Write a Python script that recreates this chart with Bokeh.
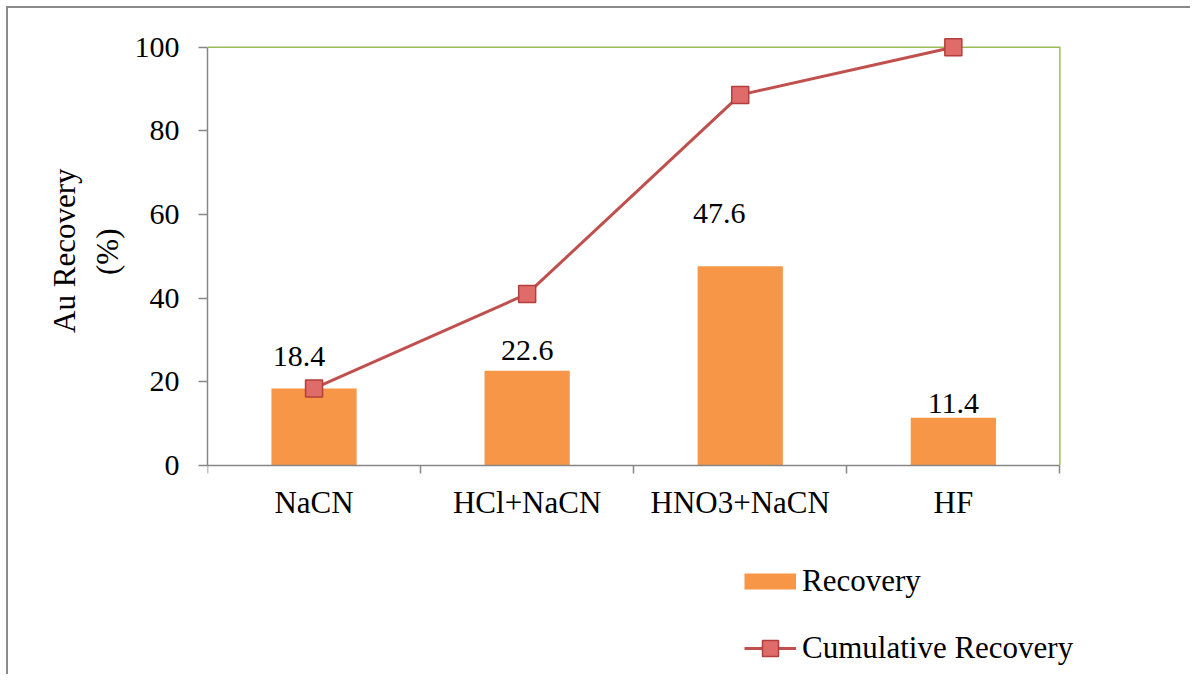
from bokeh.plotting import figure
from bokeh.models import Range1d, FixedTicker, Legend, LegendItem, ColumnDataSource, Title
from bokeh.embed import file_html
from bokeh.resources import INLINE

categories = ["NaCN", "HCl+NaCN", "HNO3+NaCN", "HF"]
recovery = [18.4, 22.6, 47.6, 11.4]
cumulative = [18.4, 41.0, 88.6, 100.0]
y_ticks = [0, 20, 40, 60, 80, 100]
y_title = ["Au Recovery", "(%)"]

# label placement (pixel offsets, styling only)
label_dx = [-15, 0, -21, 0]
label_dy = [-32, -20, -53, -14]

FONT = "Liberation Serif"
BAR = "#F79646"
LINE = "#C0504D"
AXIS = "#868686"
GREEN = "#9BBB59"

n = len(categories)
xs = [i + 0.5 for i in range(n)]

src = ColumnDataSource(dict(x=xs, rec=recovery, cum=cumulative,
                            lab=[f"{v:.1f}" for v in recovery],
                            dx=label_dx, dy=label_dy))

# the frame extends below / right of the axes so the legend has room
p = figure(width=1184, height=668,
           x_range=Range1d(0, n + 0.2), y_range=Range1d(-50.5, 104),
           output_backend="svg", toolbar_location=None,
           min_border_left=199, min_border_right=90,
           min_border_top=22, min_border_bottom=0)
p.styles = {"border-left": "2px solid #8a8a8a", "border-top": "2px solid #8a8a8a",
            "margin-left": "6px", "margin-top": "6px"}
p.outline_line_color = None
p.xgrid.visible = False
p.ygrid.visible = False
p.background_fill_color = "white"
p.border_fill_color = "white"

# plot-area frame (top and right, green)
p.line(x=[0, n, n], y=[max(y_ticks), max(y_ticks), 0], line_color=GREEN, line_width=1.5)

bars = p.vbar(x="x", top="rec", bottom=0, width=0.4, source=src, fill_color=BAR, line_color=None)
ln = p.line(x="x", y="cum", source=src, line_color=LINE, line_width=3)
mk = p.scatter(x="x", y="cum", source=src, marker="square", size=17,
               fill_color="#E06C69", line_color="#B23F3C", line_width=1.5)
# hidden renderer used only as the legend swatch for the bars (a 16px orange band)
bar_swatch = p.line(x="x", y="rec", source=src, line_color=BAR, line_width=16,
                    line_cap="butt", visible=False)

p.text(x="x", y="rec", text="lab", source=src, x_offset="dx", y_offset="dy",
       text_align="center", text_baseline="alphabetic",
       text_font={"value": FONT}, text_font_size="30px", text_color="black")

# y axis
ya = p.yaxis[0]
ya.ticker = FixedTicker(ticks=y_ticks)
ya.bounds = (0, max(y_ticks))
ya.axis_line_color = AXIS
ya.axis_line_width = 1.5
ya.major_tick_line_color = AXIS
ya.major_tick_line_width = 1.5
ya.major_tick_out = 9
ya.major_tick_in = 0
ya.minor_tick_line_color = None
ya.major_label_text_font = FONT
ya.major_label_text_font_size = "30px"
ya.major_label_text_color = "black"
ya.major_label_standoff = 19

# y-axis title, two lines, centred on the 0-100 span
p.add_layout(Title(text=y_title[1], align="right", offset=198, standoff=14,
                   text_font=FONT, text_font_size="31px", text_font_style="normal",
                   text_color="black"), "left")
p.add_layout(Title(text=y_title[0], align="right", offset=138, standoff=-3,
                   text_font=FONT, text_font_size="31px", text_font_style="normal",
                   text_color="black"), "left")

# x axis: at y = 0, labels at centres, ticks at category boundaries
xa = p.xaxis[0]
xa.fixed_location = 0
xa.bounds = (0, n)
xa.ticker = FixedTicker(ticks=xs, minor_ticks=list(range(n + 1)))
xa.major_label_overrides = {x: c for x, c in zip(xs, categories)}
xa.axis_line_color = AXIS
xa.axis_line_width = 1.5
xa.major_tick_line_color = None
xa.major_tick_out = 0
xa.major_tick_in = 0
xa.minor_tick_line_color = AXIS
xa.minor_tick_line_width = 1.5
xa.minor_tick_out = 8
xa.minor_tick_in = 0
xa.major_label_text_font = FONT
xa.major_label_text_font_size = "31px"
xa.major_label_text_color = "black"
xa.major_label_standoff = 12

legend = Legend(items=[LegendItem(label="Recovery", renderers=[bar_swatch]),
                       LegendItem(label="Cumulative Recovery", renderers=[ln, mk])],
                location=(537, 8), orientation="vertical",
                label_text_font=FONT, label_text_font_size="31px", label_text_color="black",
                glyph_width=52, glyph_height=40, label_standoff=6, spacing=27,
                padding=0, margin=0, border_line_color=None, background_fill_alpha=0,
                inactive_fill_alpha=0)
p.add_layout(legend, "center")

open("out.html", "w").write(file_html(p, INLINE))
